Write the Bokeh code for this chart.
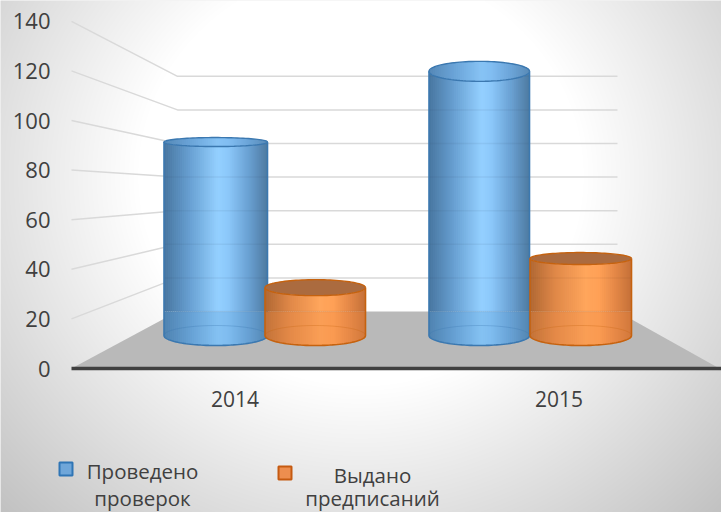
import numpy as np
from bokeh.plotting import figure
from bokeh.models import Range1d
from bokeh.core.properties import value
from bokeh.embed import file_html
from bokeh.resources import INLINE

# ---- data -------------------------------------------------------------
years = ["2014", "2015"]
series_names = [["Проведено", "проверок"], ["Выдано", "предписаний"]]
checks = [93, 127]
orders = [23, 37]
y_ticks = [0, 20, 40, 60, 80, 100, 120, 140]

# ---- layout: x in canvas pixels, y in axis units (front-plane scale) ---
W, H = 721, 512
UNIT = 49.6 / 20        # px per value on the front plane
BACK = 33.6 / 20        # px per value on the back wall
ZERO = 368              # px row of value 0
def v(py):              # canvas row -> axis units
    return (ZERO - py) / UNIT

p = figure(width=W, height=H, output_backend="svg", toolbar_location=None,
           x_range=Range1d(0, W), y_range=Range1d(v(H), v(0)),
           x_axis_type=None, y_axis_type=None, min_border=0, margin=(0, 0, 0, 0))
p.grid.visible = False
p.outline_line_color = None
p.background_fill_color = "#e8e8e8"
p.border_fill_color = "#e8e8e8"

# background radial gradient
yy, xx = np.mgrid[0:H, 0:W]
t = np.sqrt(((xx - 360) / 360.0) ** 2 + ((yy - 175) / 340.0) ** 2)
g = np.clip(255 - np.clip(t - 0.62, 0, None) * 78, 0, 255).astype(np.uint32)
img = (255 << 24) | (g << 16) | (g << 8) | g
p.image_rgba(image=[img[::-1].astype(np.uint32)], x=0, y=v(H), dw=W, dh=v(0) - v(H))

# floor
FLOOR_BACK = 311
p.patch([71, 177, 617, 719], [0, v(FLOOR_BACK), v(FLOOR_BACK), 0], fill_color="#b9b9b9", line_color=None)

# gridlines: side wall + back wall, positions derive from the tick values
def back_v(val):
    return v(FLOOR_BACK) + val * BACK / UNIT

for tick in y_ticks[1:]:
    p.line([71, 177, 617], [tick, back_v(tick), back_v(tick)], line_color="#d9d9d9", line_width=1.5)

# axis line
p.line([71, W], [0, 0], line_color="#404040", line_width=3.5)

# cylinders
DEPTH = 2.08 / UNIT
BASE_V = v(335)
FLOOR_V = v(FLOOR_BACK)

def mix(c1, c2, f):
    return tuple(a + (b - a) * f for a, b in zip(c1, c2))

def hexc(c):
    return "#%02x%02x%02x" % tuple(int(round(max(0, min(255, k)))) for k in c)

BLUE = dict(stops=[(0.0, (72, 118, 160)), (0.25, (104, 160, 210)), (0.52, (148, 208, 255)),
                   (0.62, (140, 200, 250)), (0.82, (105, 160, 210)), (1.0, (78, 122, 160))],
            edge="#3b78b0", top=None, lower=(96, 160, 214))
ORANGE = dict(stops=[(0.0, (176, 104, 52)), (0.25, (224, 136, 72)), (0.55, (255, 166, 92)),
                     (0.68, (255, 160, 86)), (0.85, (226, 134, 70)), (1.0, (196, 112, 56))],
              edge="#c5620f", top="#ab6b3f", lower=(238, 140, 70))

def shade(style, f):
    st = style["stops"]
    for (a, ca), (b, cb) in zip(st, st[1:]):
        if f <= b:
            return mix(ca, cb, (f - a) / (b - a))
    return st[-1][1]

def cylinder(x0, x1, val, ry_top, style):
    n = 52
    rim = BASE_V + val * DEPTH
    rx = (x1 - x0) / 2
    cx = (x0 + x1) / 2
    rt = ry_top / UNIT
    rb = 10 / UNIT
    xs, ys, cols = [], [], []
    edges = np.linspace(x0, x1, n + 1)
    for a, b in zip(edges[:-1], edges[1:]):
        m = (a + b) / 2
        f = (m - x0) / (x1 - x0)
        k = np.sqrt(max(0, 1 - ((m - cx) / rx) ** 2))
        bot = BASE_V - rb * k
        top = rim - rt * k
        b2 = min(b + 0.8, x1)
        col = shade(style, f)
        if top > FLOOR_V:
            split = max(bot, FLOOR_V)
            xs.append([a, b2, b2, a]); ys.append([split, split, top, top]); cols.append(hexc(col))
        if bot < FLOOR_V:
            lo = mix(col, style["lower"], 0.3)
            t2 = min(top, FLOOR_V)
            xs.append([a, b2, b2, a]); ys.append([bot, bot, t2, t2]); cols.append(hexc(lo))
    p.patches(xs, ys, fill_color=cols, line_color=None)

    # faint wall lines seen through the body
    for tick in y_ticks:
        by = back_v(tick)
        if BASE_V < by < rim:
            p.line([x0, x1], [by, by], line_color="#30506a" if style is BLUE else "#7a4a20",
                   line_alpha=0.08, line_width=1.5)

    ang = np.linspace(0, np.pi, 60)
    # back arc of base
    p.line(cx + rx * np.cos(ang), BASE_V + rb * np.sin(ang), line_color=style["edge"], line_alpha=0.3, line_width=1)
    # outline of body
    ox = np.concatenate([[x0], cx - rx * np.cos(ang), [x1]])
    oy = np.concatenate([[rim], BASE_V - rb * np.sin(ang), [rim]])
    p.line(ox, oy, line_color=style["edge"], line_width=1.6)

    # top ellipse
    ang2 = np.linspace(0, 2 * np.pi, 100)
    if style["top"]:
        p.patch(cx + rx * np.cos(ang2), rim + rt * np.sin(ang2), fill_color=style["top"], line_color=None)
    else:
        tx, ty, tc = [], [], []
        for a, b in zip(edges[:-1], edges[1:]):
            m = (a + b) / 2
            f = (m - x0) / (x1 - x0)
            k = np.sqrt(max(0, 1 - ((m - cx) / rx) ** 2))
            b2 = min(b + 0.8, x1)
            tx.append([a, b2, b2, a])
            ty.append([rim - rt * k, rim - rt * k, rim + rt * k, rim + rt * k])
            tc.append(hexc(mix(shade(style, f), (110, 170, 225), 0.35)))
        p.patches(tx, ty, fill_color=tc, line_color=None)
    p.line(cx + rx * np.cos(ang2), rim + rt * np.sin(ang2), line_color=style["edge"], line_width=1.4)

spans_checks = [(163.5, 267, 4.5), (428.5, 529, 10)]
spans_orders = [(264.5, 365, 8), (529.5, 631, 6)]
for val, (a, b, r) in zip(checks, spans_checks):
    cylinder(a, b, val, r, BLUE)
for val, (a, b, r) in zip(orders, spans_orders):
    cylinder(a, b, val, r, ORANGE)

# texts
FONT = value("Open Sans")
TXT = "#404040"
p.text([50] * len(y_ticks), y_ticks, text=[str(k) for k in y_ticks], text_align="right", text_baseline="middle",
       text_font=FONT, text_font_size="22px", text_color=TXT)
p.text([234.5, 558.5], [v(398)] * 2, text=years, text_align="center", text_baseline="middle",
       text_font=FONT, text_font_size="21px", text_color=TXT)

p.quad(left=[59, 278], right=[72, 291], top=[v(462), v(466)], bottom=[v(475), v(479)],
       fill_color=["#6fa6d9", "#ed8e4f"], line_color=["#2f75b5", "#c55a11"], line_width=2)
p.text([142, 142, 372, 372], [v(470), v(497), v(474), v(497.5)],
       text=series_names[0] + series_names[1], text_align="center", text_baseline="middle",
       text_font=FONT, text_font_size="20.5px", text_color=TXT)

open("out.html", "w").write(file_html(p, INLINE))
